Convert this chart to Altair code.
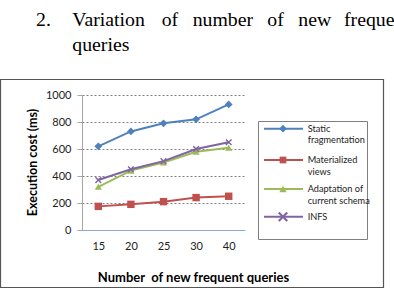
import altair as alt
import pandas as pd

# ---- data -------------------------------------------------------------
queries = ["15", "20", "25", "30", "40"]
series = ["Static fragmentation", "Materialized views",
          "Adaptation of current schema", "INFS"]
static_frag = [620, 730, 790, 820, 930]
materialized = [175, 190, 210, 240, 250]
adaptation = [320, 440, 500, 580, 610]
infs = [370, 450, 510, 600, 650]
legend_labels = [["Static", "fragmentation"], ["Materialized", "views"],
                 ["Adaptation of", "current schema"], ["INFS"]]
y_ticks = [0, 200, 400, 600, 800, 1000]

# ---- styling ----------------------------------------------------------
colors = ["#4F81BD", "#C0504D", "#9BBB59", "#8064A2"]
# thin "x" marker as a custom symbol path (unit square coordinates)
X_PATH = ("M-0.7,-1L0,-0.3L0.7,-1L1,-0.7L0.3,0L1,0.7L0.7,1L0,0.3"
          "L-0.7,1L-1,0.7L-0.3,0L-1,-0.7Z")
shapes = ["diamond", "square", "triangle-up", X_PATH]
sizes = [60, 45, 55, 100]
UI_FONT = "Lato"
W, H = 163, 135
PAD = {"left": 82, "top": 95, "right": 149, "bottom": 60}

values = [static_frag, materialized, adaptation, infs]
df = pd.DataFrame([
    {"series": s, "queries": q, "cost": v}
    for s, vals in zip(series, values)
    for q, v in zip(queries, vals)
])

x_enc = alt.X("queries:O", sort=queries,
              scale=alt.Scale(type="point", padding=0.5, domain=queries),
              axis=alt.Axis(title=None, labelAngle=0, ticks=False,
                            domainColor="#8CA9D3", domainWidth=1,
                            labelPadding=10, labelFontSize=11,
                            labelColor="#222222", grid=False, zindex=1))
y_enc = alt.Y("cost:Q", scale=alt.Scale(domain=[0, 1000]),
              axis=alt.Axis(title=None, values=y_ticks, format="d", grid=True,
                            gridColor="#7F7F7F", gridDash=[2, 2],
                            tickSize=5, tickColor="#A6A6A6",
                            domainColor="#A6A6A6", labelPadding=6,
                            labelFontSize=11, labelColor="#222222"))
color_enc = alt.Color("series:N", scale=alt.Scale(domain=series, range=colors),
                      legend=None)

lines = alt.Chart(df).mark_line(strokeWidth=2).encode(
    x=x_enc, y=y_enc, color=color_enc, detail="series:N")

points = alt.Chart(df).mark_point(filled=True, opacity=1).encode(
    x=x_enc, y=y_enc, color=color_enc,
    shape=alt.Shape("series:N", scale=alt.Scale(domain=series, range=shapes),
                    legend=None),
    size=alt.Size("series:O", scale=alt.Scale(domain=series, range=sizes),
                  legend=None),
)

one = pd.DataFrame({"k": [0]})

# outer frame around the figure
frame = alt.Chart(one).mark_rect(fillOpacity=0, stroke="#555555",
                                 strokeWidth=1.2).encode(
    x=alt.value(-81.5), x2=alt.value(301.5),
    y=alt.value(-15.5), y2=alt.value(192.5))

# heading above the figure (justified words)
heading_words = [("2.", -46), ("Variation", -9.7), ("of", 79.7),
                 ("number", 110.7), ("of", 185.3), ("new", 216.3),
                 ("frequent", 262)]
heading = [
    alt.Chart(one).mark_text(font="Liberation Serif", fontSize=19.8,
                             align="left", baseline="alphabetic",
                             color="#000000").encode(
        x=alt.value(px), y=alt.value(-69), text=alt.value(word))
    for word, px in heading_words
]
heading.append(
    alt.Chart(one).mark_text(font="Liberation Serif", fontSize=19.8,
                             align="left", baseline="alphabetic",
                             color="#000000").encode(
        x=alt.value(-9.7), y=alt.value(-44), text=alt.value("queries")))

# axis titles
y_title = alt.Chart(one).mark_text(font=UI_FONT, fontSize=12.5,
                                   fontWeight="bold", angle=270,
                                   align="center", baseline="middle",
                                   color="#000000").encode(
    x=alt.value(-49), y=alt.value(67.5),
    text=alt.value("Execution cost (ms)"))
x_title = alt.Chart(one).mark_text(font=UI_FONT, fontSize=13,
                                   fontWeight="bold", align="center",
                                   baseline="middle", color="#000000").encode(
    x=alt.value(111.5), y=alt.value(182.7),
    text=alt.value("Number\u00a0 of new frequent queries"))

# legend box with line + marker swatches
legend_box = alt.Chart(one).mark_rect(fillOpacity=0, stroke="#7F7F7F",
                                      strokeWidth=1).encode(
    x=alt.value(176.5), x2=alt.value(285.5),
    y=alt.value(26.5), y2=alt.value(144.5))
swatch_y = [33.7, 65, 94, 121.7]
LINE_STEP = 11.5
legend_layers = [legend_box]
for i in range(len(series)):
    legend_layers.append(
        alt.Chart(one).mark_rule(color=colors[i], strokeWidth=2).encode(
            x=alt.value(182), x2=alt.value(221), y=alt.value(swatch_y[i])))
    legend_layers.append(
        alt.Chart(one).mark_point(shape=shapes[i], filled=True, opacity=1,
                                  size=sizes[i], color=colors[i]).encode(
            x=alt.value(201), y=alt.value(swatch_y[i])))
    for j, line in enumerate(legend_labels[i]):
        legend_layers.append(
            alt.Chart(one).mark_text(font=UI_FONT, fontSize=9.2, align="left",
                                     baseline="middle",
                                     color="#222222").encode(
                x=alt.value(225.7), y=alt.value(swatch_y[i] + j * LINE_STEP),
                text=alt.value(line)))

chart = alt.layer(
    frame, lines, points, *heading, y_title, x_title, *legend_layers
).properties(
    width=W, height=H, padding=PAD,
    autosize=alt.AutoSizeParams(type="none"),
    background="#FFFFFF",
).configure_view(
    stroke=None
).configure_axis(
    labelFont=UI_FONT
)

chart.save("out.html", embed_options={"renderer": "svg", "actions": False})
